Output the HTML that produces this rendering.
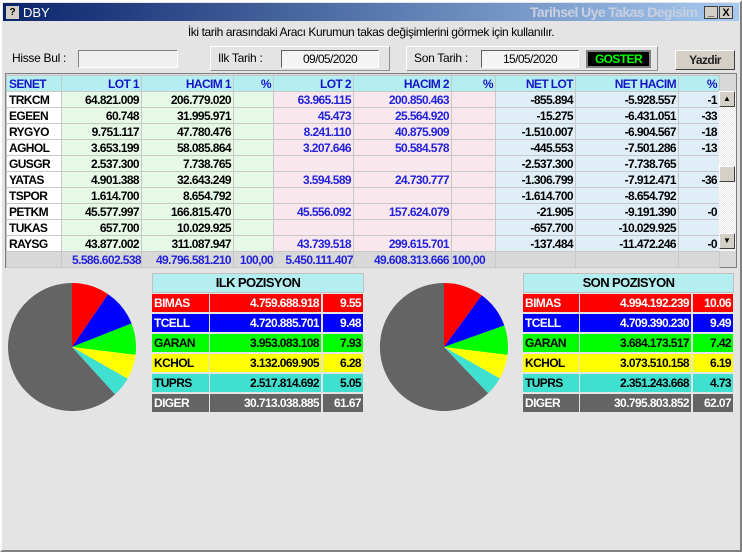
<!DOCTYPE html>
<html><head><meta charset="utf-8"><style>
*{margin:0;padding:0;box-sizing:border-box}
body{width:742px;height:552px;background:#e4e4e4;position:relative;overflow:hidden;font-family:"Liberation Sans",sans-serif;font-size:12px}
.a{position:absolute}
.n{font-weight:bold;letter-spacing:-0.6px;white-space:nowrap}
table{border-collapse:collapse;table-layout:fixed;position:absolute;left:6px;top:75px}
td{border:1px solid #c8c8c8;height:16px;line-height:14px;padding:0 2px;text-align:right;font-weight:bold;letter-spacing:-0.6px;white-space:nowrap;overflow:hidden;font-size:12px}
tr.h td{background:#b4eef0;color:#1616c8}
td.s{text-align:left;background:#fff}
.g{background:#e6f8e6}.p{background:#f8e8ee}.b{background:#e0eef8}
.bl{color:#2222dd}
.pt div{position:absolute;height:18px;line-height:18px;font-weight:bold;letter-spacing:-0.6px;font-size:12px;padding:0 2px}
</style></head><body>
<div class="a" style="left:0;top:0;width:742px;height:552px;border:2px solid;border-color:#fff #808080 #808080 #fff"></div>
<div class="a" style="left:3px;top:3px;width:736px;height:18px;background:linear-gradient(90deg,#0a246a,#a6caf0)"></div>
<div class="a" style="left:6px;top:6px;width:13px;height:13px;background:#d4d0c8;font-weight:bold;font-size:10px;text-align:center;line-height:13px">?</div>
<div class="a" style="left:23px;top:5px;color:#fff;font-size:13px">DBY</div>
<div class="a n" style="left:530px;top:4px;color:#c8d0e0;font-size:14px">Tarihsel Uye Takas Degisim</div>
<div class="a" style="left:704px;top:6px;width:14px;height:13px;background:#d4d0c8;border:1px solid #404040;font-weight:bold;font-size:11px;text-align:center;line-height:11px">_</div>
<div class="a" style="left:719px;top:6px;width:14px;height:13px;background:#d4d0c8;border:1px solid #404040;font-weight:bold;font-size:11px;text-align:center;line-height:12px">X</div>
<div class="a" style="left:0;top:25px;width:742px;text-align:center;letter-spacing:-0.4px">İki tarih arasındaki  Aracı Kurumun takas değişimlerini görmek için kullanılır.</div>
<div class="a" style="left:12px;top:51px;letter-spacing:-0.3px">Hisse Bul :</div>
<div class="a" style="left:78px;top:50px;width:100px;height:18px;background:#f0f0f0;border:1px solid;border-color:#808080 #fff #fff #808080"></div>
<div class="a" style="left:210px;top:46px;width:180px;height:25px;border:1px solid;border-color:#fff #909090 #909090 #fff"></div>
<div class="a" style="left:218px;top:51px;letter-spacing:-0.3px">Ilk Tarih :</div>
<div class="a n" style="left:281px;top:50px;width:98px;height:18px;background:#f4f4f4;border:1px solid;border-color:#606060 #fff #fff #606060;text-align:center;line-height:16px;font-weight:normal">09/05/2020</div>
<div class="a" style="left:406px;top:46px;width:252px;height:25px;border:1px solid;border-color:#fff #909090 #909090 #fff"></div>
<div class="a" style="left:414px;top:51px;letter-spacing:-0.3px">Son Tarih :</div>
<div class="a n" style="left:481px;top:50px;width:98px;height:18px;background:#f4f4f4;border:1px solid;border-color:#606060 #fff #fff #606060;text-align:center;line-height:16px;font-weight:normal">15/05/2020</div>
<div class="a n" style="left:586px;top:50px;width:65px;height:18px;background:#000;border:2px solid #808080;color:#00ff00;text-align:center;line-height:14px">GOSTER</div>
<div class="a n" style="left:675px;top:50px;width:60px;height:20px;background:#d4d0c8;border:1px solid;border-color:#fff #404040 #404040 #fff;text-align:center;line-height:18px;color:#222">Yazdir</div>
<div class="a" style="left:5px;top:73px;width:732px;height:195px;border:1px solid #808080;background:#d8d8d8"></div>
<table>
<colgroup><col style="width:55px"><col style="width:80px"><col style="width:92px"><col style="width:40px"><col style="width:80px"><col style="width:98px"><col style="width:44px"><col style="width:80px"><col style="width:103px"><col style="width:41px"></colgroup>
<tr class="h"><td class="s" style="background:#b4eef0">SENET</td><td>LOT 1</td><td>HACIM 1</td><td>%</td><td>LOT 2</td><td>HACIM 2</td><td>%</td><td>NET LOT</td><td>NET HACIM</td><td>%</td></tr>
<tr><td class="s">TRKCM</td><td class="g">64.821.009</td><td class="g">206.779.020</td><td class="g"></td><td class="p bl">63.965.115</td><td class="p bl">200.850.463</td><td class="p"></td><td class="b">-855.894</td><td class="b">-5.928.557</td><td class="b">-1</td></tr>
<tr><td class="s">EGEEN</td><td class="g">60.748</td><td class="g">31.995.971</td><td class="g"></td><td class="p bl">45.473</td><td class="p bl">25.564.920</td><td class="p"></td><td class="b">-15.275</td><td class="b">-6.431.051</td><td class="b">-33</td></tr>
<tr><td class="s">RYGYO</td><td class="g">9.751.117</td><td class="g">47.780.476</td><td class="g"></td><td class="p bl">8.241.110</td><td class="p bl">40.875.909</td><td class="p"></td><td class="b">-1.510.007</td><td class="b">-6.904.567</td><td class="b">-18</td></tr>
<tr><td class="s">AGHOL</td><td class="g">3.653.199</td><td class="g">58.085.864</td><td class="g"></td><td class="p bl">3.207.646</td><td class="p bl">50.584.578</td><td class="p"></td><td class="b">-445.553</td><td class="b">-7.501.286</td><td class="b">-13</td></tr>
<tr><td class="s">GUSGR</td><td class="g">2.537.300</td><td class="g">7.738.765</td><td class="g"></td><td class="p"></td><td class="p"></td><td class="p"></td><td class="b">-2.537.300</td><td class="b">-7.738.765</td><td class="b"></td></tr>
<tr><td class="s">YATAS</td><td class="g">4.901.388</td><td class="g">32.643.249</td><td class="g"></td><td class="p bl">3.594.589</td><td class="p bl">24.730.777</td><td class="p"></td><td class="b">-1.306.799</td><td class="b">-7.912.471</td><td class="b">-36</td></tr>
<tr><td class="s">TSPOR</td><td class="g">1.614.700</td><td class="g">8.654.792</td><td class="g"></td><td class="p"></td><td class="p"></td><td class="p"></td><td class="b">-1.614.700</td><td class="b">-8.654.792</td><td class="b"></td></tr>
<tr><td class="s">PETKM</td><td class="g">45.577.997</td><td class="g">166.815.470</td><td class="g"></td><td class="p bl">45.556.092</td><td class="p bl">157.624.079</td><td class="p"></td><td class="b">-21.905</td><td class="b">-9.191.390</td><td class="b">-0</td></tr>
<tr><td class="s">TUKAS</td><td class="g">657.700</td><td class="g">10.029.925</td><td class="g"></td><td class="p"></td><td class="p"></td><td class="p"></td><td class="b">-657.700</td><td class="b">-10.029.925</td><td class="b"></td></tr>
<tr><td class="s">RAYSG</td><td class="g">43.877.002</td><td class="g">311.087.947</td><td class="g"></td><td class="p bl">43.739.518</td><td class="p bl">299.615.701</td><td class="p"></td><td class="b">-137.484</td><td class="b">-11.472.246</td><td class="b">-0</td></tr>
<tr style="background:#d8d8d8;color:#2222dd"><td style="padding:0" ></td><td style="padding:0;overflow:visible">5.586.602.538</td><td>49.796.581.210</td><td style="padding:0">100,00</td><td style="padding:0;overflow:visible">5.450.111.407</td><td>49.608.313.666</td><td style="text-align:left;padding:0">100,00</td><td></td><td></td><td></td></tr>
</table>
<div class="a" style="left:719px;top:91px;width:17px;height:160px;background:repeating-conic-gradient(#e8e8e8 0 25%,#fff 0 50%) 0 0/2px 2px"></div>
<div class="a" style="left:719px;top:91px;width:16px;height:16px;background:#d4d0c8;border:1px solid;border-color:#fff #404040 #404040 #fff;font-size:8px;text-align:center;line-height:14px">▲</div>
<div class="a" style="left:719px;top:166px;width:16px;height:16px;background:#d4d0c8;border:1px solid;border-color:#fff #404040 #404040 #fff"></div>
<div class="a" style="left:719px;top:233px;width:16px;height:16px;background:#d4d0c8;border:1px solid;border-color:#fff #404040 #404040 #fff;font-size:8px;text-align:center;line-height:14px">▼</div>
<svg class="a" style="left:0;top:0" width="742" height="552">
<g stroke="none">
<path d="M72 347 L72 283 A64 64 0 0 1 108.1 294.2Z" fill="#f00"/>
<path d="M72 347 L108.1 294.2 A64 64 0 0 1 131.6 323.5Z" fill="#00f"/>
<path d="M72 347 L131.6 323.5 A64 64 0 0 1 135.5 354.9Z" fill="#0f0"/>
<path d="M72 347 L135.5 354.9 A64 64 0 0 1 127.6 378.7Z" fill="#ff0"/>
<path d="M72 347 L127.6 378.7 A64 64 0 0 1 115 394.4Z" fill="#40e0d0"/>
<path d="M72 347 L115 394.4 A64 64 0 1 1 72 283Z" fill="#646464"/>
<path d="M444 347 L444 283 A64 64 0 0 1 481.8 295.4Z" fill="#f00"/>
<path d="M444 347 L481.8 295.4 A64 64 0 0 1 504.3 325.5Z" fill="#00f"/>
<path d="M444 347 L504.3 325.5 A64 64 0 0 1 507.5 354.9Z" fill="#0f0"/>
<path d="M444 347 L507.5 354.9 A64 64 0 0 1 499.8 378.4Z" fill="#ff0"/>
<path d="M444 347 L499.8 378.4 A64 64 0 0 1 488.1 393.3Z" fill="#40e0d0"/>
<path d="M444 347 L488.1 393.3 A64 64 0 1 1 444 283Z" fill="#646464"/>
</g></svg>
<div class="a n" style="left:152px;top:273px;width:212px;height:20px;background:#b4eef0;border:1px solid #c0c0c0;text-align:center;line-height:18px;font-size:13px">ILK POZISYON</div>
<div class="a n" style="left:523px;top:273px;width:211px;height:20px;background:#b4eef0;border:1px solid #c0c0c0;text-align:center;line-height:18px;font-size:13px">SON POZISYON</div>
<div class="pt">
<div style="left:152px;top:294px;width:57px;background:#f00;color:#fff">BIMAS</div><div style="left:210px;top:294px;width:111px;background:#f00;color:#fff;text-align:right">4.759.688.918</div><div style="left:323px;top:294px;width:40px;background:#f00;color:#fff;text-align:right">9.55</div>
<div style="left:152px;top:314px;width:57px;background:#00f;color:#fff">TCELL</div><div style="left:210px;top:314px;width:111px;background:#00f;color:#fff;text-align:right">4.720.885.701</div><div style="left:323px;top:314px;width:40px;background:#00f;color:#fff;text-align:right">9.48</div>
<div style="left:152px;top:334px;width:57px;background:#0f0">GARAN</div><div style="left:210px;top:334px;width:111px;background:#0f0;text-align:right">3.953.083.108</div><div style="left:323px;top:334px;width:40px;background:#0f0;text-align:right">7.93</div>
<div style="left:152px;top:354px;width:57px;background:#ff0">KCHOL</div><div style="left:210px;top:354px;width:111px;background:#ff0;text-align:right">3.132.069.905</div><div style="left:323px;top:354px;width:40px;background:#ff0;text-align:right">6.28</div>
<div style="left:152px;top:374px;width:57px;background:#40e0d0">TUPRS</div><div style="left:210px;top:374px;width:111px;background:#40e0d0;text-align:right">2.517.814.692</div><div style="left:323px;top:374px;width:40px;background:#40e0d0;text-align:right">5.05</div>
<div style="left:152px;top:394px;width:57px;background:#646464;color:#fff">DIGER</div><div style="left:210px;top:394px;width:111px;background:#646464;color:#fff;text-align:right">30.713.038.885</div><div style="left:323px;top:394px;width:40px;background:#646464;color:#fff;text-align:right">61.67</div>
<div style="left:523px;top:294px;width:56px;background:#f00;color:#fff">BIMAS</div><div style="left:580px;top:294px;width:111px;background:#f00;color:#fff;text-align:right">4.994.192.239</div><div style="left:693px;top:294px;width:40px;background:#f00;color:#fff;text-align:right">10.06</div>
<div style="left:523px;top:314px;width:56px;background:#00f;color:#fff">TCELL</div><div style="left:580px;top:314px;width:111px;background:#00f;color:#fff;text-align:right">4.709.390.230</div><div style="left:693px;top:314px;width:40px;background:#00f;color:#fff;text-align:right">9.49</div>
<div style="left:523px;top:334px;width:56px;background:#0f0">GARAN</div><div style="left:580px;top:334px;width:111px;background:#0f0;text-align:right">3.684.173.517</div><div style="left:693px;top:334px;width:40px;background:#0f0;text-align:right">7.42</div>
<div style="left:523px;top:354px;width:56px;background:#ff0">KCHOL</div><div style="left:580px;top:354px;width:111px;background:#ff0;text-align:right">3.073.510.158</div><div style="left:693px;top:354px;width:40px;background:#ff0;text-align:right">6.19</div>
<div style="left:523px;top:374px;width:56px;background:#40e0d0">TUPRS</div><div style="left:580px;top:374px;width:111px;background:#40e0d0;text-align:right">2.351.243.668</div><div style="left:693px;top:374px;width:40px;background:#40e0d0;text-align:right">4.73</div>
<div style="left:523px;top:394px;width:56px;background:#646464;color:#fff">DIGER</div><div style="left:580px;top:394px;width:111px;background:#646464;color:#fff;text-align:right">30.795.803.852</div><div style="left:693px;top:394px;width:40px;background:#646464;color:#fff;text-align:right">62.07</div>
</div>
</body></html>
